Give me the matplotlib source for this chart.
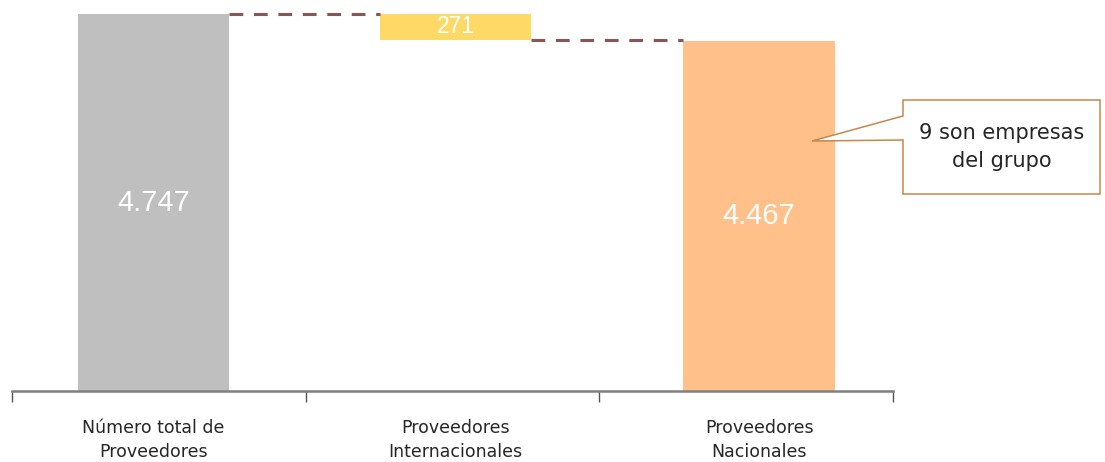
import matplotlib
matplotlib.use("Agg")
import matplotlib.pyplot as plt
from matplotlib.patches import Polygon

categories = ["Número total de\nProveedores", "Proveedores\nInternacionales", "Proveedores\nNacionales"]
total = 4747
internacionales = 271
nacionales = 4467
value_labels = ["4.747", "271", "4.467"]
note = "9 son empresas\ndel grupo"

colors = ["#BFBFBF", "#FFD966", "#FFC08A"]
link_color = "#8A5555"

fig = plt.figure(figsize=(11.05, 4.62), dpi=100)
W, H = 1105, 462
ax = fig.add_axes([12 / W, 71 / H, 881 / W, 391 / H])

# waterfall: total, floating drop, remaining
bottoms = [0, total - internacionales, 0]
heights = [total, internacionales, nacionales]
xs = [-0.018, 1.01, 2.044]
bw = 0.515
ax.bar(xs, heights, bottom=bottoms, width=bw, color=colors, edgecolor="none", zorder=2)

# connector lines between bars
ax.plot([xs[0] + bw / 2, xs[1] - bw / 2], [total, total], color=link_color, lw=2.2,
        dashes=(4.5, 3.5), solid_capstyle="butt", zorder=3)
ax.plot([xs[1] + bw / 2, xs[2] - bw / 2], [total - internacionales] * 2, color=link_color,
        lw=2.2, dashes=(4.5, 3.5), solid_capstyle="butt", zorder=3)

# value labels (value axis does not start at zero)
y0, y1 = 780, 4895
ax.text(xs[0], (y0 + total) / 2, value_labels[0], color="white", fontsize=21, ha="center",
        va="center", family="Liberation Sans")
ax.text(xs[1], total - internacionales / 2, value_labels[1], color="white", fontsize=16.5,
        ha="center", va="center", family="Liberation Sans")
ax.text(xs[2], (y0 + nacionales) / 2, value_labels[2], color="white", fontsize=21,
        ha="center", va="center", family="Liberation Sans")

ax.set_xlim(-0.5, 2.5)
ax.set_ylim(y0, y1)

for s in ["top", "right", "left"]:
    ax.spines[s].set_visible(False)
ax.spines["bottom"].set_color("#7F7F7F")
ax.spines["bottom"].set_linewidth(1.8)
ax.set_yticks([])

ax.set_xticks(xs)
ax.set_xticklabels(categories, fontsize=12.5, color="#262626", linespacing=1.45)
ax.tick_params(axis="x", which="major", length=0, pad=20)
ax.set_xticks([-0.5, 0.5, 1.5, 2.5], minor=True)
ax.tick_params(axis="x", which="minor", length=8, width=1, color="#555555", direction="out")

# callout box with pointer into the last bar
def px(x, y):
    return (x / W, 1 - y / H)

pts = [px(903, 100), px(1100, 100), px(1100, 194), px(903, 194), px(903, 140),
       px(812, 141), px(903, 116)]
fig.patches.append(Polygon(pts, closed=True, transform=fig.transFigure, facecolor="white",
                           edgecolor="#C8864A", lw=1.1, zorder=5))
fig.text(*px(1002, 147), note, ha="center", va="center", fontsize=15, color="#262626",
         linespacing=1.55, zorder=6)

fig.savefig("out.png", dpi=100)
